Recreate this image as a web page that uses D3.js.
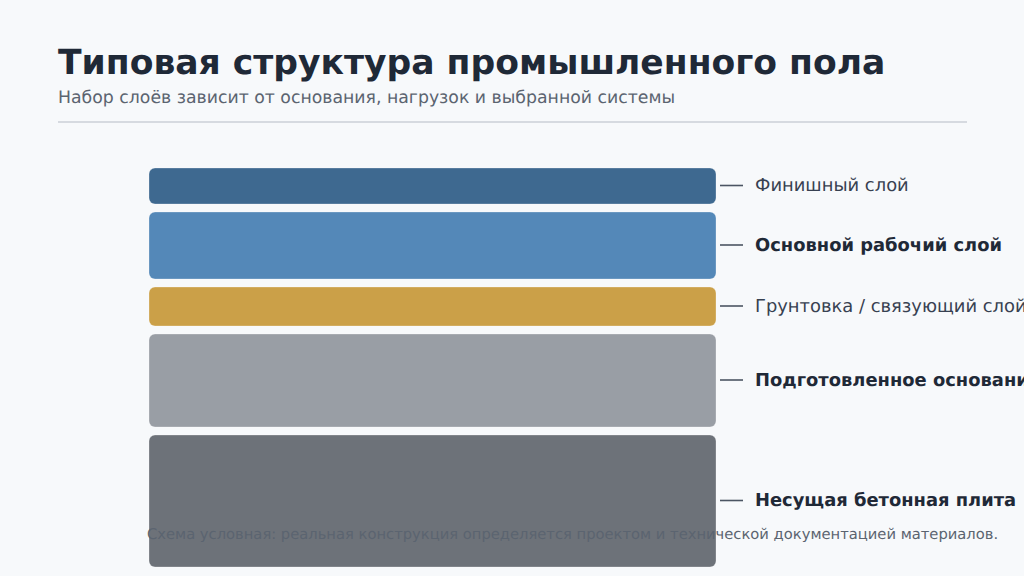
<!DOCTYPE html>
<html lang="ru"><head><meta charset="utf-8">
<script src="https://cdn.jsdelivr.net/npm/d3@7"></script>
<style>
html,body{margin:0;padding:0;background:#f7f9fb;overflow:hidden}
svg{display:block;font-family:"DejaVu Sans",sans-serif;text-rendering:geometricPrecision}
</style></head><body>
<svg id="c" width="1024" height="576"></svg>
<script>
const titleText = "Типовая структура промышленного пола";
const subtitleText = "Набор слоёв зависит от основания, нагрузок и выбранной системы";
const footnoteText = "Схема условная: реальная конструкция определяется проектом и технической документацией материалов.";
const layers = ["Финишный слой","Основной рабочий слой","Грунтовка / связующий слой","Подготовленное основание","Несущая бетонная плита"];
const thickness = [36,67,39,93,132];
const emphasised = [false,true,false,true,true];
const colors = ["#3e6990","#5488b8","#cba048","#999ea5","#6d7279"];

const svg = d3.select("#c");
const W = 1024, H = 576;
const gap = 8, top0 = 168;
const total = d3.sum(thickness);
const y = d3.scaleLinear().domain([0,total]).range([top0, top0+total]);
const x = d3.scaleLinear().domain([0,1]).range([149,716]);
const starts = d3.cumsum([0,...thickness]);
const rows = layers.map((name,i)=>({name,i,y0:y(starts[i])+gap*i,h:y(thickness[i])-y(0),bold:emphasised[i],color:colors[i]}));

svg.append("rect").attr("width",W).attr("height",H).attr("fill","#f7f9fb");
svg.append("text").attr("x",58).attr("y",74).attr("font-size",34.55).attr("font-weight",700).attr("fill","#1f2937").text(titleText);
svg.append("text").attr("x",58).attr("y",103).attr("font-size",17.3).attr("fill","#5b6470").text(subtitleText);
svg.append("line").attr("x1",58).attr("x2",967).attr("y1",122).attr("y2",122).attr("stroke","#d6dae0").attr("stroke-width",2);

const g = svg.append("g").selectAll("g").data(rows).join("g");
g.append("rect").attr("x",x(0)).attr("width",x(1)-x(0)).attr("y",d=>d.y0).attr("height",d=>d.h)
 .attr("rx",6).attr("fill",d=>d.color).attr("stroke","#ffffff").attr("stroke-opacity",0.35).attr("stroke-width",0.8);
g.append("line").attr("x1",720).attr("x2",743).attr("y1",d=>d.y0+d.h/2-0.5).attr("y2",d=>d.y0+d.h/2-0.5)
 .attr("stroke","#4b5563").attr("stroke-width",1.6);
g.append("text").attr("x",755).attr("y",d=>d.y0+d.h/2-1.4).attr("dy","0.36em").attr("font-size",17.9)
 .attr("font-weight",d=>d.bold?700:400).attr("fill",d=>d.bold?"#1f2937":"#374151").text(d=>d.name);

svg.append("text").attr("x",147).attr("y",539).attr("font-size",14.73).attr("fill","#5b6470").text(footnoteText);
</script></body></html>
